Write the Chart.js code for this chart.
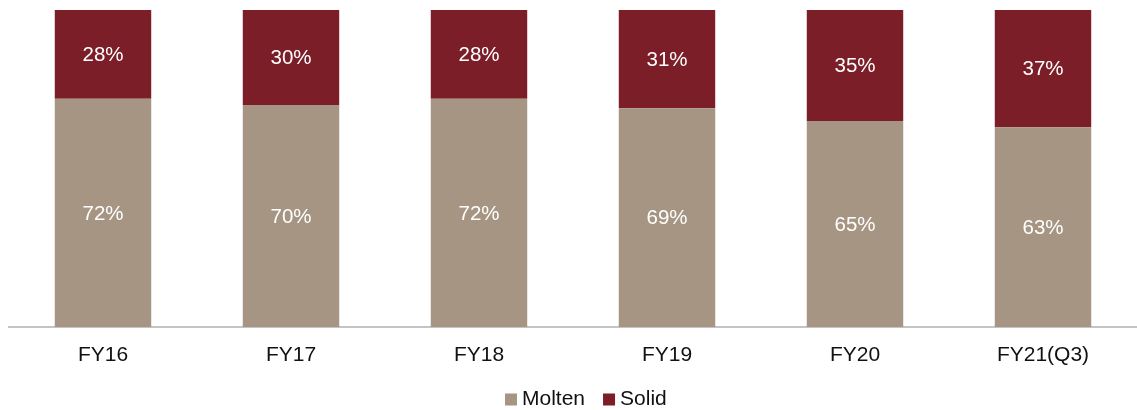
<!DOCTYPE html>
<html><head><meta charset="utf-8">
<script src="https://cdn.jsdelivr.net/npm/chart.js@4/dist/chart.umd.min.js"></script>
<style>html,body{margin:0;padding:0;background:#fff;}#wrap{width:1137px;height:410px;}</style>
</head><body><div id="wrap"><canvas id="c"></canvas></div>
<script>
const categories = ["FY16","FY17","FY18","FY19","FY20","FY21(Q3)"];
const molten = [72,70,72,69,65,63];
const solid = [28,30,28,31,35,37];
const seriesNames = ["Molten","Solid"];
const seriesColors = ["#A69582","#7B1E28"];

const FONT = '"Liberation Sans", Arial, sans-serif';

const labelPlugin = {
  id:'segLabels',
  afterDatasetsDraw(chart){
    const ctx = chart.ctx;
    ctx.save();
    ctx.fillStyle = '#ffffff';
    ctx.font = '20.5px ' + FONT;
    ctx.textAlign = 'center';
    ctx.textBaseline = 'middle';
    chart.data.datasets.forEach((ds,i)=>{
      chart.getDatasetMeta(i).data.forEach((bar,j)=>{
        const y = (bar.y + bar.base)/2;
        ctx.fillText(ds.data[j] + '%', bar.x, y + 1);
      });
    });
    ctx.restore();
  }
};

const legendPlugin = {
  id:'customLegend',
  afterDraw(chart){
    const ctx = chart.ctx;
    ctx.save();
    ctx.font = '21px ' + FONT;
    ctx.textBaseline = 'middle';
    const box = 12, gap = 5, itemGap = 18, cy = 399.5;
    let x = 505;
    chart.data.datasets.forEach((ds)=>{
      ctx.fillStyle = ds.backgroundColor;
      ctx.fillRect(x, cy - box/2, box, box);
      x += box + gap;
      ctx.fillStyle = '#111111';
      ctx.textAlign = 'left';
      ctx.fillText(ds.label, x, cy);
      x += ctx.measureText(ds.label).width + itemGap;
    });
    ctx.restore();
  }
};

new Chart(document.getElementById('c'), {
  type:'bar',
  data:{
    labels: categories,
    datasets:[
      {label:seriesNames[0], data:molten, backgroundColor:seriesColors[0]},
      {label:seriesNames[1], data:solid, backgroundColor:seriesColors[1]}
    ]
  },
  options:{
    responsive:true, maintainAspectRatio:false, animation:false,
    layout:{padding:{top:10,left:9,right:-3,bottom:0}},
    datasets:{bar:{barPercentage:1, categoryPercentage:0.513}},
    scales:{
      x:{stacked:true, grid:{display:false}, border:{display:true,color:'#c4c4c4',width:2},
         ticks:{color:'#111111', font:{family:FONT, size:21}, padding:8},
         afterFit(scale){ scale.height = 410 - 327; }},
      y:{stacked:true, display:false, min:0, max:100}
    },
    plugins:{
      legend:{display:false},
      tooltip:{enabled:false}
    }
  },
  plugins:[labelPlugin, legendPlugin]
});
</script></body></html>
